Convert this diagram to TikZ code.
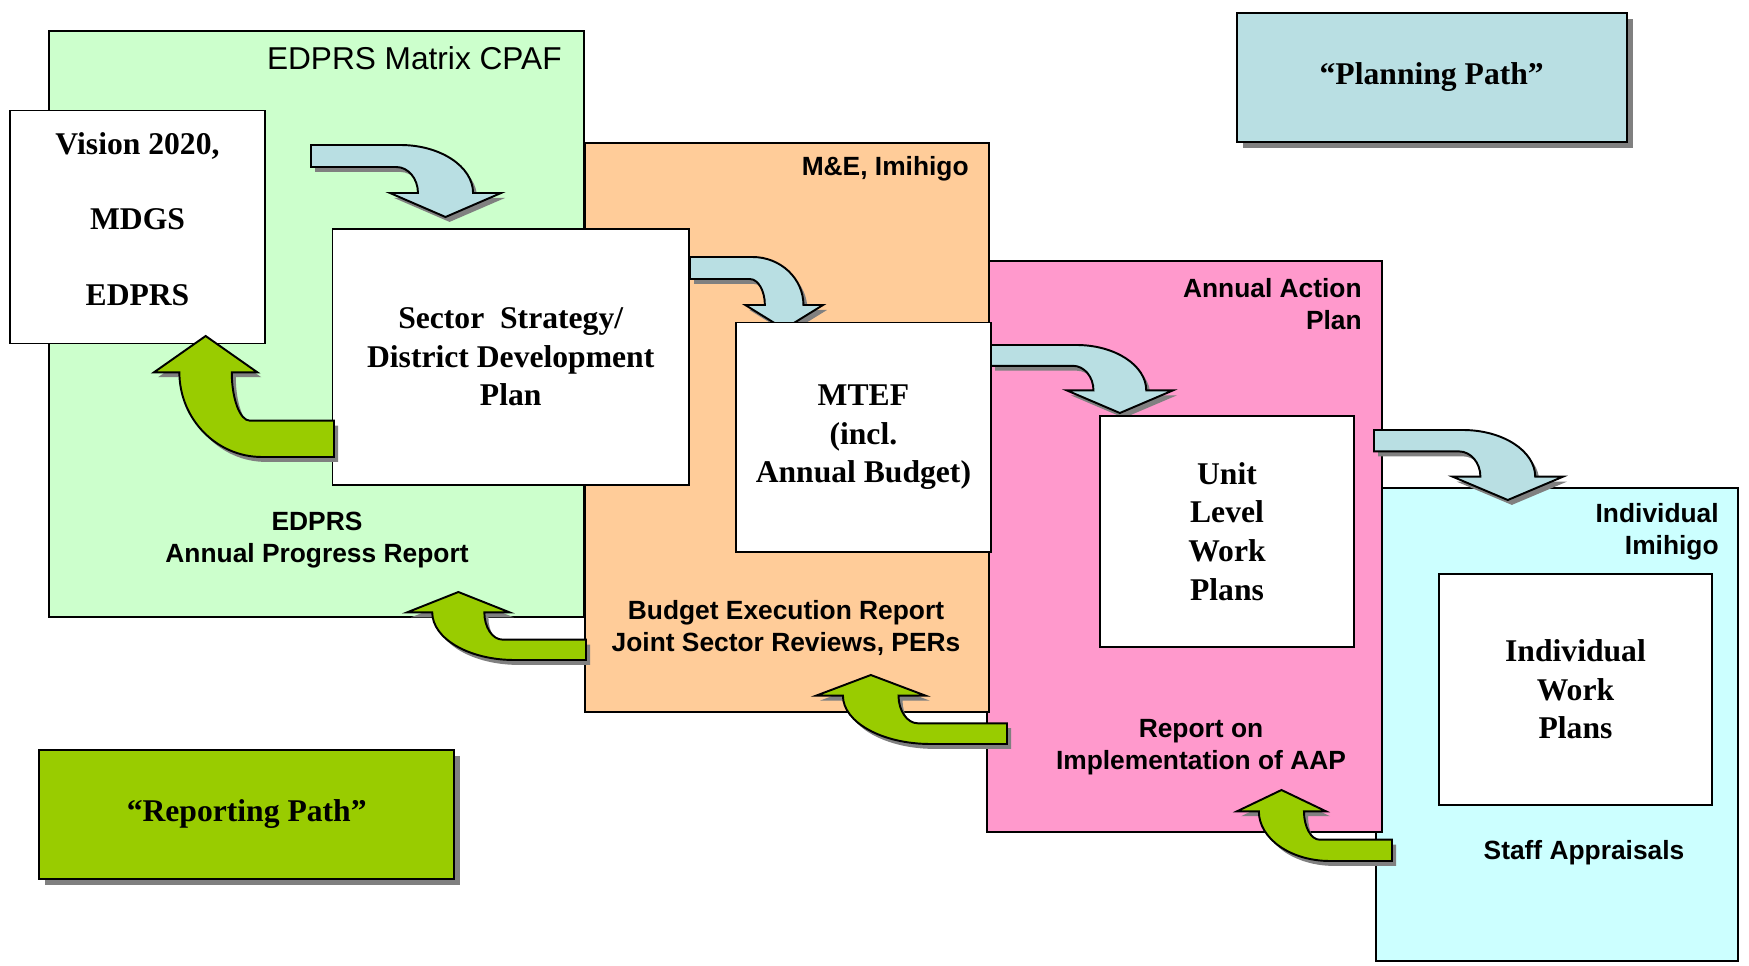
\documentclass[tikz,border=0pt]{standalone}
\usepackage{fontspec}
\setmainfont{Liberation Serif}
\setsansfont{Liberation Sans}
\definecolor{cpaf}{HTML}{CCFFCC}
\definecolor{mande}{HTML}{FFCC99}
\definecolor{aap}{HTML}{FF99CC}
\definecolor{imihigo}{HTML}{CCFFFF}
\definecolor{planblue}{HTML}{B9DFE3}
\definecolor{reportgreen}{HTML}{99CC00}
\definecolor{dropgray}{HTML}{808080}
\tikzset{
  panel/.style={draw=black, line width=1.1pt},
  sheet/.style={draw=black, fill=white, line width=1.1pt, align=center,
                font=\bfseries\fontsize{18}{22}\selectfont},
  pathbox/.style={sheet, preaction={fill=dropgray, transform canvas={xshift=3.4pt, yshift=-3.4pt}}},
  tag/.style={inner sep=0pt, align=center, font=\sffamily\bfseries\fontsize{15}{18}\selectfont},
  planarrow/.style={draw=black, fill=planblue, line width=1.1pt,
                    preaction={fill=dropgray, transform canvas={xshift=2.3pt, yshift=-2.8pt}}},
  reportarrow/.style={planarrow, fill=reportgreen},
  % bent arrows drawn in a unit box, y pointing down
  pics/downturn/.style={code={
    \path[planarrow] (0,0) -- (0.47,0)
      .. controls (0.681,0) and (0.853,0.299) .. (0.853,0.667)
      -- (1,0.667) -- (0.708,1) -- (0.416,0.667) -- (0.563,0.667)
      .. controls (0.563,0.468) and (0.512,0.306) .. (0.45,0.306)
      -- (0,0.306) -- cycle;
  }},
  pics/upturn/.style={code={
    \path[reportarrow] (0.287,0) -- (0.574,0.3) -- (0.432,0.3)
      .. controls (0.432,0.517) and (0.477,0.7) .. (0.533,0.7)
      -- (1,0.7) -- (1,1) -- (0.6,1)
      .. controls (0.347,1) and (0.141,0.686) .. (0.141,0.3)
      -- (0,0.3) -- cycle;
  }}
}

\begin{document}
\begin{tikzpicture}[x=0.02cm,y=-0.02cm]
  \useasboundingbox (0,0) rectangle (1749,966);

  % stage panels, back to front
  \draw[panel,fill=imihigo] (1376,488) rectangle (1738,961);
  \draw[panel,fill=aap] (987,261) rectangle (1382,832);
  \draw[panel,fill=mande] (585,143) rectangle (989,712);
  \draw[panel,fill=cpaf] (49,31) rectangle (584,617);

  % planning path
  \pic[shift={(311,145)},xscale=190,yscale=72] {downturn};
  \pic[shift={(690,257)},xscale=133,yscale=72] {downturn};
  \pic[shift={(991,345)},xscale=182,yscale=68] {downturn};
  \pic[shift={(1374,430)},xscale=189,yscale=70] {downturn};

  % plans
  \node[sheet,minimum width=5.1cm,minimum height=4.66cm] (vision) at (137.5,227) {};
  \node[align=center,font=\bfseries\fontsize{18}{22}\selectfont] (visiontext) at (137.5,219)
    {Vision 2020,\\[21pt] MDGS\\[21pt] EDPRS};
  \node[sheet,minimum width=7.13cm,minimum height=5.13cm] (sector) at (510.7,357)
    {Sector\ \ Strategy/\\District Development\\Plan};
  \node[sheet,minimum width=5.11cm,minimum height=4.59cm] (mtef) at (863.4,437.2)
    {MTEF\\(incl.\\Annual Budget)};
  \node[sheet,minimum width=5.08cm,minimum height=4.63cm] (unit) at (1227,531.3)
    {Unit\\Level\\Work\\Plans};
  \node[sheet,minimum width=5.46cm,minimum height=4.62cm] (iwp) at (1575.5,689.5)
    {Individual\\Work\\Plans};

  % reporting path
  \pic[shift={(154,336)},xscale=180,yscale=121] {upturn};
  \pic[shift={(407,592)},xscale=179,yscale=68] {upturn};
  \pic[shift={(816,675)},xscale=191,yscale=69] {upturn};
  \pic[shift={(1237,790)},xscale=155,yscale=71] {upturn};

  % legend
  \node[pathbox,fill=planblue,minimum width=7.8cm,minimum height=2.58cm] (planning)
    at (1431.7,77.2) {“Planning Path”};
  \node[pathbox,fill=reportgreen,minimum width=8.31cm,minimum height=2.58cm] (reporting)
    at (246.7,814.5) {“Reporting Path”};

  % panel captions
  \node[inner sep=0pt,anchor=east,font=\sffamily\fontsize{18}{22}\selectfont] (cpaftitle)
    at (562,58) {EDPRS Matrix CPAF};
  \node[tag] (apr) at (317,540) {EDPRS\\Annual Progress Report};
  \node[tag,anchor=east] (metitle) at (969,169) {M\&E, Imihigo};
  \node[tag] (ber) at (786,628) {Budget Execution Report\\Joint Sector Reviews, PERs};
  \node[tag,align=right,anchor=east] (aaptitle) at (1362,304) {Annual Action\\Plan};
  \node[tag] (raap) at (1201,747) {Report on\\Implementation of AAP};
  \node[tag,align=right,anchor=east] (imtitle) at (1719,532) {Individual\\Imihigo};
  \node[tag] (staff) at (1584,853) {Staff Appraisals};
\end{tikzpicture}
\end{document}
